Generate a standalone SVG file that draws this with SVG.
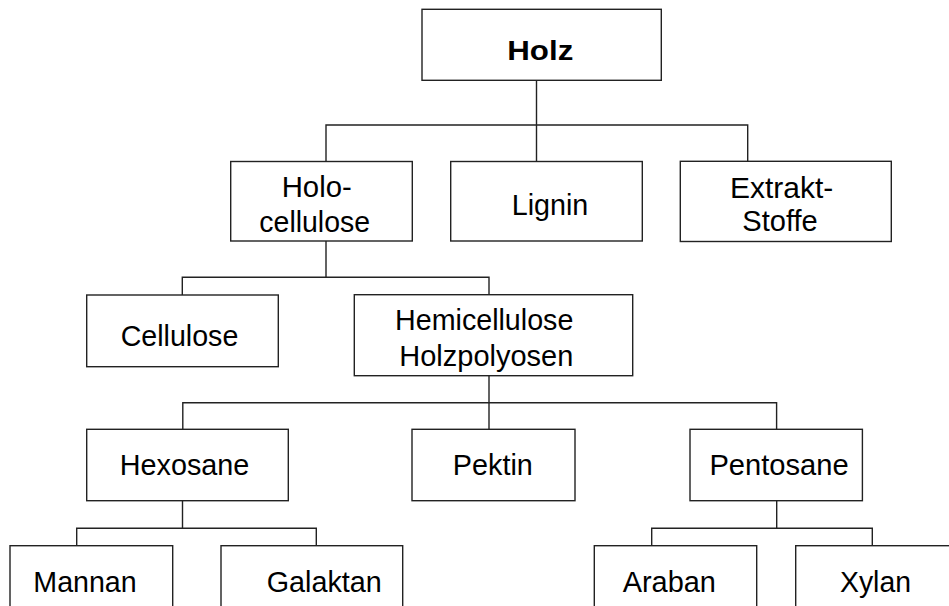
<svg xmlns="http://www.w3.org/2000/svg" width="949" height="606" viewBox="0 0 949 606">
<style>
.box{fill:#fff;stroke:#222;stroke-width:1.4}
.t{font-family:"Liberation Sans",Arial,sans-serif;font-size:30px;fill:#000;text-anchor:middle}
.b{font-weight:bold;font-size:27px}
.c{fill:none;stroke:#222;stroke-width:1.4}
</style>
<rect width="949" height="606" fill="#fff"/>
<g id="connectors" class="c">
<path d="M536.5 80V162M326 161V125H747.7V161"/>
<path d="M326 241V277.3M182.3 295V277.3H489V295"/>
<path d="M489 375.7V429.3M182.8 429.3V402.7H776.6V429.3"/>
<path d="M182.5 500.7V528.3M76.7 545.7V528.3H316.3V545.7"/>
<path d="M776.7 500.7V528.3M651.7 545.7V528.3H872.3V545.7"/>
</g>
<g id="holz"><rect class="box" x="422" y="9.3" width="239.3" height="71"/><text class="t b" x="540.3" y="60" textLength="66" lengthAdjust="spacingAndGlyphs">Holz</text></g>
<g id="holocellulose"><rect class="box" x="230.7" y="161.5" width="181.6" height="79.5"/><text class="t" x="316.7" y="196.7" textLength="70" lengthAdjust="spacingAndGlyphs">Holo-</text><text class="t" x="314.7" y="232.3" textLength="110.7" lengthAdjust="spacingAndGlyphs">cellulose</text></g>
<g id="lignin"><rect class="box" x="450.7" y="161.5" width="191.6" height="79.5"/><text class="t" x="550" y="215" textLength="76.6" lengthAdjust="spacingAndGlyphs">Lignin</text></g>
<g id="extraktstoffe"><rect class="box" x="680.3" y="161.3" width="211" height="80.2"/><text class="t" x="781.7" y="197.7" textLength="103.3" lengthAdjust="spacingAndGlyphs">Extrakt-</text><text class="t" x="780" y="231" textLength="75.4" lengthAdjust="spacingAndGlyphs">Stoffe</text></g>
<g id="cellulose"><rect class="box" x="86.7" y="295" width="191.6" height="71.7"/><text class="t" x="179.5" y="346" textLength="117.6" lengthAdjust="spacingAndGlyphs">Cellulose</text></g>
<g id="hemicellulose"><rect class="box" x="354.3" y="294.7" width="278.4" height="81"/><text class="t" x="484.2" y="330" textLength="178.3" lengthAdjust="spacingAndGlyphs">Hemicellulose</text><text class="t" x="486.3" y="366" textLength="174" lengthAdjust="spacingAndGlyphs">Holzpolyosen</text></g>
<g id="hexosane"><rect class="box" x="86.7" y="429.3" width="201.6" height="71.4"/><text class="t" x="184.6" y="475" textLength="129.5" lengthAdjust="spacingAndGlyphs">Hexosane</text></g>
<g id="pektin"><rect class="box" x="412" y="429.3" width="163" height="71.4"/><text class="t" x="492.8" y="475" textLength="80" lengthAdjust="spacingAndGlyphs">Pektin</text></g>
<g id="pentosane"><rect class="box" x="690" y="429.3" width="172.4" height="71.4"/><text class="t" x="779" y="475" textLength="139.2" lengthAdjust="spacingAndGlyphs">Pentosane</text></g>
<g id="mannan"><rect class="box" x="10" y="545.7" width="162.7" height="80"/><text class="t" x="85" y="591.7" textLength="103.4" lengthAdjust="spacingAndGlyphs">Mannan</text></g>
<g id="galaktan"><rect class="box" x="221" y="545.7" width="181.7" height="80"/><text class="t" x="324.2" y="591.7" textLength="115" lengthAdjust="spacingAndGlyphs">Galaktan</text></g>
<g id="araban"><rect class="box" x="594.3" y="545.7" width="162.4" height="80"/><text class="t" x="669.3" y="591.7" textLength="93.3" lengthAdjust="spacingAndGlyphs">Araban</text></g>
<g id="xylan"><rect class="box" x="795.7" y="545.7" width="180" height="80"/><text class="t" x="875.5" y="591.7" textLength="71" lengthAdjust="spacingAndGlyphs">Xylan</text></g>
</svg>
